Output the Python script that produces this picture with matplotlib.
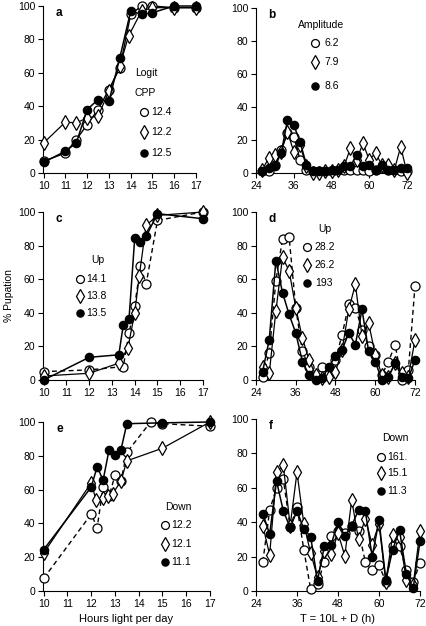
import matplotlib
matplotlib.use("Agg")
import matplotlib.pyplot as plt
import numpy as np

plt.rcParams['font.family'] = ['Liberation Sans', 'DejaVu Sans']

# ---------------- data ----------------
# panel a
a_x_open = [10, 11, 11.5, 12, 12.5, 13, 13.5, 14, 14.5, 15, 16, 17]
a_open = [7, 12, 20, 29, 38, 50, 63, 95, 100, 100, 99, 99]
a_x_dia = [10, 11, 11.5, 12, 12.5, 13, 13.5, 13.9, 14.5, 15, 16, 17]
a_dia = [18, 30.5, 30, 33, 34, 49, 64, 82, 97, 99, 99, 99]
a_x_fill = [10, 11, 11.5, 12, 12.5, 13, 13.5, 14, 14.5, 15, 16, 17]
a_fill = [6.5, 13, 18, 38, 44, 43, 69, 97, 95, 96, 100, 100]

# time axis for b, d, f
t_vals = list(range(26, 73, 2))

b_open = [1, 1, 5, 14, 24, 22, 8, 2, 1, 1, 1, 1, 2, 2, 2, 2, 2, 1, 2, 3, 2, 2, 1, 1]
b_dia = [2, 9, 11, 13, 25, 13, 17, 4, 0, 0, 1, 1, 2, 4, 15, 8, 18, 8, 12, 5, 5, 2, 16, 0]
b_fill = [1, 3, 4, 12, 32, 29, 19, 5, 1, 1, 1, 2, 2, 4, 4, 11, 4, 5, 2, 5, 2, 2, 3, 3]

# panel c
c_x_open = [10, 12, 13.5, 13.75, 14, 14.25, 14.5, 15, 17]
c_open = [5, 6, 8, 28, 44, 68, 57, 95, 100]
c_x_dia = [10, 12, 13.3, 13.7, 14, 14.2, 14.5, 15, 17]
c_dia = [2.4, 4, 10, 19, 40, 62, 92, 98, 100]
c_x_fill = [10, 12, 13.3, 13.5, 13.75, 14, 14.25, 14.5, 15, 17]
c_fill = [0, 13.5, 15, 33, 36.5, 84.5, 82, 85.5, 99, 96]

# panel d
d_open = [2, 16, 59, 84, 85, 43, 17, 8, 2, 8, 4, 12, 27, 45, 43, 30, 20, 15, 3, 11, 21, 0, 6, 56]
d_dia = [8, 4, 41, 73, 65, 43, 25, 12, 3, 1, 2, 5, 18, 42, 57, 26, 34, 15, 3, 2, 10, 4, 2, 24]
d_fill = [5, 24, 71, 52, 39, 28, 11, 3, 0, 1, 8, 14, 18, 28, 21, 42, 17, 11, 0, 2, 10, 2, 1, 12]

# panel e
e_x_open = [10, 12, 12.25, 12.5, 12.75, 13, 13.25, 13.5, 14.5, 15, 17]
e_open = [7.5, 45.5, 37.5, 61.5, 56, 68.5, 65, 82, 100, 99, 97.5]
e_x_dia = [10, 12, 12.2, 12.5, 12.7, 12.9, 13.25, 13.5, 15, 17]
e_dia = [22.5, 64, 54, 55, 56, 57.5, 65, 77, 84.5, 100]
e_x_fill = [10, 12, 12.25, 12.5, 12.75, 13, 13.25, 13.5, 15, 17]
e_fill = [24.5, 61.5, 73.5, 65.5, 83.5, 80.5, 83.5, 99, 99.5, 100]

# panel f
f_open = [17, 47, 60, 65, 37, 49, 24, 1, 4, 17, 32, 35, 33.5, 38, 35, 17, 12, 15, 5.5, 26, 26, 12, 5.5, 16]
f_dia = [38, 21, 69, 73, 38, 69, 39, 22, 8, 23, 21.5, 33.5, 20.5, 53, 30, 42, 27, 39, 5.5, 32.5, 31.5, 6.5, 3.5, 35]
f_fill = [45, 33, 64, 46.5, 37, 46.5, 36, 31.5, 6, 26, 27, 40, 32, 38, 47, 46.5, 20, 41, 6.5, 24, 35.5, 10, 1.5, 29]

legend_titles = {'a': ['Logit', 'CPP'], 'b': ['Amplitude'], 'c': ['Up'],
                 'd': ['Up'], 'e': ['Down'], 'f': ['Down']}
legend_labels = {'a': ['12.4', '12.2', '12.5'], 'b': ['6.2', '7.9', '8.6'],
                 'c': ['14.1', '13.8', '13.5'], 'd': ['28.2', '26.2', '193'],
                 'e': ['12.2', '12.1', '11.1'], 'f': ['161.', '15.1', '11.3']}

hour_ticks = [10, 11, 12, 13, 14, 15, 16, 17]
time_ticks = [24, 36, 48, 60, 72]
y_ticks = [0, 20, 40, 60, 80, 100]

# ---------------- figure ----------------
W, H = 427, 626
fig = plt.figure(figsize=(W / 100, H / 100), dpi=100)


def mkax(l, r, t, b):
    return fig.add_axes([l / W, 1 - b / H, (r - l) / W, (b - t) / H])


axes = {
    'a': mkax(43, 196, 6, 173),
    'b': mkax(256, 407, 8, 173),
    'c': mkax(43, 203, 212, 380),
    'd': mkax(256, 415, 212, 380),
    'e': mkax(43, 210, 422, 591),
    'f': mkax(256, 420, 419, 591),
}

FS = 7.5
mk_open = dict(marker='o', ms=6.5, mfc='white', mec='black', mew=0.9)
mk_dia = dict(marker='d', ms=7.5, mfc='white', mec='black', mew=0.9)
mk_fill = dict(marker='o', ms=6, mfc='black', mec='black', mew=0.9)


def style(ax, letter, hours):
    for s in ['top', 'right']:
        ax.spines[s].set_visible(False)
    for s in ['left', 'bottom']:
        ax.spines[s].set_linewidth(0.8)
    ax.set_ylim(0, 100)
    ax.set_yticks(y_ticks)
    if hours:
        ax.set_xlim(9.97, 17)
        ax.set_xticks(hour_ticks)
    else:
        ax.set_xlim(24, 72)
        ax.set_xticks(time_ticks)
    ax.tick_params(direction='out', length=3.5, width=0.8, labelsize=FS, pad=2)
    ax.text(0.08, 0.96, letter, transform=ax.transAxes, fontsize=8.5,
            fontweight='bold', va='center', ha='left')


def legend(ax, titles, title_x, title_ys, mx, tx, ys, labels, center=False):
    for t, ty in zip(titles, title_ys):
        ax.text(title_x, ty, t, transform=ax.transAxes, fontsize=FS,
                ha='center' if center else 'left', va='center')
    styles = [mk_open, mk_dia, mk_fill]
    for st, y, lab in zip(styles, ys, labels):
        st2 = dict(st)
        st2['ms'] = st['ms'] - 0.8
        ax.plot([mx], [y], transform=ax.transAxes, ls='none', clip_on=False, **st2)
        ax.text(tx, y, lab, transform=ax.transAxes, fontsize=FS, ha='left', va='center')


def draw(ax, xo, yo, xd, yd, xf, yf, dash_open=True):
    ls_open = (0, (3.5, 2.5)) if dash_open else '-'
    ax.plot(xo, yo, color='black', lw=1.0, ls=ls_open, clip_on=False, zorder=3, **mk_open)
    ax.plot(xd, yd, color='black', lw=0.9, ls='-', clip_on=False, zorder=3, **mk_dia)
    ax.plot(xf, yf, color='black', lw=1.1, ls='-', clip_on=False, zorder=4, **mk_fill)


# panel a
ax = axes['a']
style(ax, 'a', True)
draw(ax, a_x_open, a_open, a_x_dia, a_dia, a_x_fill, a_fill, dash_open=False)
legend(ax, legend_titles['a'], 0.60, [0.60, 0.48], 0.66, 0.705,
       [0.365, 0.245, 0.12], legend_labels['a'])

# panel b
ax = axes['b']
style(ax, 'b', False)
draw(ax, t_vals, b_open, t_vals, b_dia, t_vals, b_fill, dash_open=False)
legend(ax, legend_titles['b'], 0.28, [0.90], 0.39, 0.455,
       [0.79, 0.67, 0.53], legend_labels['b'])

# panel c
ax = axes['c']
style(ax, 'c', True)
draw(ax, c_x_open, c_open, c_x_dia, c_dia, c_x_fill, c_fill)
legend(ax, legend_titles['c'], 0.34, [0.715], 0.23, 0.27,
       [0.60, 0.50, 0.40], legend_labels['c'], center=True)
ax.set_ylabel('% Pupation', fontsize=7.5)
ax.yaxis.set_label_coords(-0.18, 0.5)

# panel d
ax = axes['d']
style(ax, 'd', False)
draw(ax, t_vals, d_open, t_vals, d_dia, t_vals, d_fill)
legend(ax, legend_titles['d'], 0.435, [0.90], 0.32, 0.37,
       [0.79, 0.685, 0.58], legend_labels['d'], center=True)

# panel e
ax = axes['e']
style(ax, 'e', True)
draw(ax, e_x_open, e_open, e_x_dia, e_dia, e_x_fill, e_fill)
legend(ax, legend_titles['e'], 0.81, [0.50], 0.73, 0.765,
       [0.39, 0.28, 0.17], legend_labels['e'], center=True)
ax.set_xlabel('Hours light per day', fontsize=8, labelpad=4)

# panel f
ax = axes['f']
style(ax, 'f', False)
draw(ax, t_vals, f_open, t_vals, f_dia, t_vals, f_fill)
legend(ax, legend_titles['f'], 0.85, [0.89], 0.76, 0.80,
       [0.78, 0.685, 0.58], legend_labels['f'], center=True)
ax.set_xlabel('T = 10L + D (h)', fontsize=8, labelpad=4)

fig.savefig('out.png', dpi=100)
